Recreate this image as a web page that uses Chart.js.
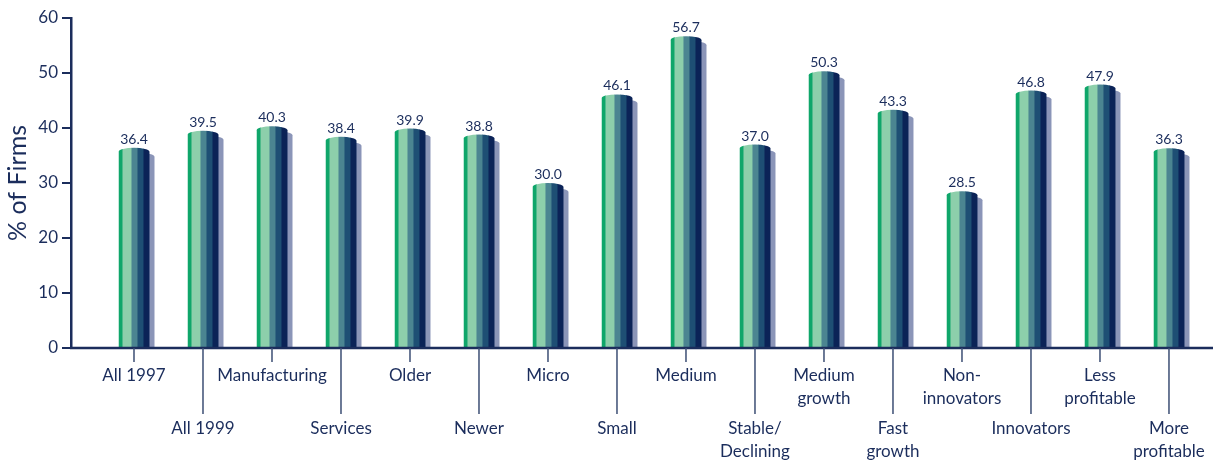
<!DOCTYPE html>
<html>
<head>
<meta charset="utf-8">
<script src="https://cdn.jsdelivr.net/npm/chart.js@4.4.1/dist/chart.umd.min.js"></script>
<style>
  html, body { margin: 0; padding: 0; background: #fff; }
</style>
</head>
<body>
<canvas id="graphique-firmes" width="1213" height="461"></canvas>
<script>
// categories, alternating upper / lower label rows
const categories = [
  'All 1997', 'All 1999', 'Manufacturing', 'Services', 'Older', 'Newer',
  'Micro', 'Small', 'Medium', ['Stable/', 'Declining'], ['Medium', 'growth'],
  ['Fast', 'growth'], ['Non-', 'innovators'], 'Innovators', ['Less', 'profitable'],
  ['More', 'profitable']
];
const valeurs = [36.4, 39.5, 40.3, 38.4, 39.9, 38.8, 30.0, 46.1, 56.7, 37.0, 50.3, 43.3, 28.5, 46.8, 47.9, 36.3];
const ticksY = [0, 10, 20, 30, 40, 50, 60];
const titreY = '% of Firms';

const bleuTexte = '#1b2d5c';
const police = 'Lato, "DejaVu Sans", sans-serif';

// stripes of the cylinder, left to right (fraction of bar width)
const bandes = [
  [0, 4 / 31, '#0fa66a'],
  [4 / 31, 13 / 31, '#8dcfab'],
  [13 / 31, 19 / 31, '#4b8591'],
  [19 / 31, 25 / 31, '#1e4f74'],
  [25 / 31, 1, '#0b2357']
];

function formeCylindre(ctx, x, y, w, base, cap) {
  ctx.beginPath();
  ctx.moveTo(x, base);
  ctx.lineTo(x, y + cap);
  ctx.ellipse(x + w / 2, y + cap, w / 2, cap, 0, Math.PI, 2 * Math.PI);
  ctx.lineTo(x + w, base);
  ctx.closePath();
}

const cylindres = {
  id: 'cylindres',
  afterDatasetsDraw(chart) {
    const ctx = chart.ctx;
    const meta = chart.getDatasetMeta(0);
    const cap = 4;
    meta.data.forEach((bar, i) => {
      const w = bar.width;
      const left = bar.x - w / 2;
      const top = bar.y;
      const base = bar.base;

      // ombre
      ctx.save();
      formeCylindre(ctx, left + 5, top + 5, w, base, cap);
      ctx.fillStyle = '#8b95b8';
      ctx.fill();
      ctx.restore();

      // cylindre
      ctx.save();
      formeCylindre(ctx, left, top, w, base, cap);
      ctx.clip();
      for (const [a, b, c] of bandes) {
        ctx.fillStyle = c;
        ctx.fillRect(left + a * w, top - 1, (b - a) * w + 0.5, base - top + 1);
      }
      ctx.restore();

      // valeur
      ctx.save();
      ctx.fillStyle = bleuTexte;
      ctx.font = '14px ' + police;
      ctx.textAlign = 'center';
      ctx.textBaseline = 'alphabetic';
      ctx.fillText(valeurs[i].toFixed(1), bar.x, top - 4);
      ctx.restore();
    });
  },
  afterDraw(chart) {
    const ctx = chart.ctx;
    const area = chart.chartArea;
    const xs = chart.scales.x;
    const y0 = chart.scales.y.getPixelForValue(0);

    ctx.save();
    // ligne de base
    ctx.strokeStyle = bleuTexte;
    ctx.lineWidth = 2.5;
    ctx.beginPath();
    ctx.moveTo(area.left - 1, y0);
    ctx.lineTo(chart.width, y0);
    ctx.stroke();

    // etiquettes en quinconce
    ctx.font = '17px ' + police;
    ctx.fillStyle = bleuTexte;
    ctx.textAlign = 'center';
    ctx.textBaseline = 'middle';
    categories.forEach((lab, i) => {
      const x = xs.getPixelForValue(i);
      const bas = i % 2 === 1;
      const lignes = Array.isArray(lab) ? lab : [lab];
      ctx.strokeStyle = '#3c4e74';
      ctx.lineWidth = 1.5;
      ctx.beginPath();
      ctx.moveTo(x, y0);
      ctx.lineTo(x, y0 + (bas ? 66 : 14));
      ctx.stroke();
      const yDebut = y0 + (bas ? 81 : 28);
      lignes.forEach((t, k) => ctx.fillText(t, x, yDebut + k * 22.5));
    });
    ctx.restore();
  }
};

const config = {
  type: 'bar',
  data: {
    datasets: [{
      data: valeurs.map((v, i) => ({ x: i, y: v })),
      backgroundColor: 'rgba(0,0,0,0)',
      borderWidth: 0,
      barThickness: 31
    }]
  },
  options: {
    responsive: false,
    animation: false,
    layout: { padding: { top: 18, bottom: 113, left: 0, right: 0 } },
    plugins: { legend: { display: false }, tooltip: { enabled: false } },
    scales: {
      x: {
        type: 'linear',
        display: false,
        offset: false,
        bounds: 'ticks',
        min: -0.913,
        max: 15.638
      },
      y: {
        min: 0,
        max: 60,
        afterBuildTicks: (scale) => { scale.ticks = ticksY.map(v => ({ value: v })); },
        afterFit: (scale) => { scale.width = 71; },
        border: { display: true, color: bleuTexte, width: 2.5 },
        grid: { drawOnChartArea: false, drawTicks: true, tickLength: 9, color: bleuTexte, lineWidth: 2 },
        ticks: { color: bleuTexte, font: { family: police, size: 17 }, padding: 4 },
        title: {
          display: true,
          text: titreY,
          color: bleuTexte,
          font: { family: police, size: 25 },
          padding: { top: 3, bottom: 0 }
        }
      }
    }
  },
  plugins: [cylindres]
};

new Chart(document.querySelector('#graphique-firmes'), config);
</script>
</body>
</html>
